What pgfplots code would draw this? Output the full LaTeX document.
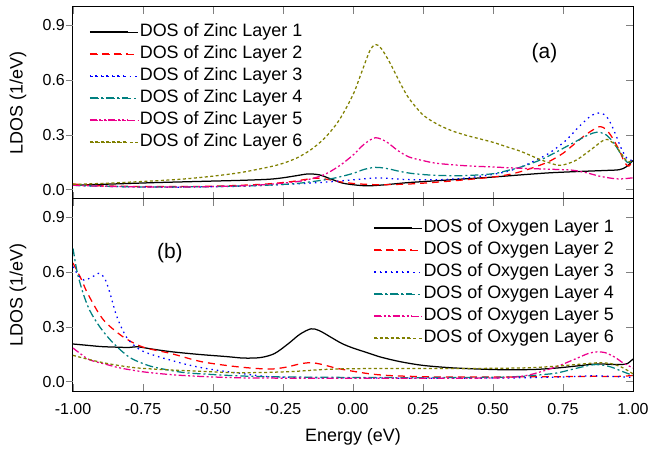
\documentclass[border=0pt]{standalone}
\usepackage{pgfplots}
\pgfplotsset{compat=1.18}
\usepackage{fontspec}
\setmainfont{Liberation Sans}
\definecolor{tealL}{RGB}{0,128,128}
\definecolor{oliveL}{RGB}{128,128,0}
\tikzset{
  l1/.style={draw=black, color=black, line width=1.25bp, solid},
  l2/.style={draw=red, color=red, line width=1.25bp, dash pattern=on 7bp off 5bp},
  l3/.style={draw=blue, color=blue, line width=1.25bp, dash pattern=on 1.5bp off 4bp},
  l4/.style={draw=tealL, color=tealL, line width=1.25bp, dash pattern=on 8bp off 3bp on 2bp off 3bp},
  l5/.style={draw=magenta, color=magenta, line width=1.25bp, dash pattern=on 7bp off 2.5bp on 2bp off 2.5bp on 2bp off 2.5bp},
  l6/.style={draw=oliveL, color=oliveL, line width=1.25bp, dash pattern=on 3bp off 2.5bp},
}
\pgfplotsset{
  dosaxis/.style={
    scale only axis, width=560bp, height=192bp,
    xmin=-1, xmax=1, ymin=-0.05, ymax=1.0,
    xtick={-1,-0.75,-0.5,-0.25,0,0.25,0.5,0.75,1},
    ytick={0,0.3,0.6,0.9},
    tick align=inside, major tick length=7bp,
    ytick pos=right, yticklabel pos=left,
    extra y ticks={0,0.3,0.6,0.9}, extra y tick labels={},
    extra y tick style={ytick pos=left, tick align=outside},
    tick style={line width=0.8bp},
    axis line style={line width=1bp},
    /pgf/number format/assume math mode=true,
    tick label style={font=\fontsize{16}{16}\selectfont},
    yticklabel style={/pgf/number format/fixed, /pgf/number format/fixed zerofill, /pgf/number format/precision=1, anchor=east, inner sep=0pt, xshift=-8bp},
    ylabel={LDOS (1/eV)},
    every axis y label/.style={at={(axis description cs:-0.0982,0.5)}, rotate=90, anchor=center, font=\fontsize{18}{18}\selectfont},
    legend cell align=left,
    legend style={fill=none, draw=none, font=\fontsize{18}{18}\selectfont, inner sep=0pt, row sep=4bp, nodes={text height=12bp, text depth=4bp, inner sep=1bp}},
    legend image code/.code={\path (0bp,0bp) -- (47bp,0bp);},
  },
}
\begin{document}
\begin{tikzpicture}
\useasboundingbox (-73bp,-60bp) rectangle (576bp,391bp);
% ---------------- top panel ----------------
\begin{axis}[dosaxis, at={(0bp,192bp)}, xticklabels={},
  legend style={at={(axis description cs:0.031,0.9167)}, anchor=north west}]
\addplot[l1, smooth] coordinates {(-1,0.025) (-0.9,0.03) (-0.8,0.035) (-0.7,0.04) (-0.6,0.044) (-0.5,0.048) (-0.4,0.052) (-0.3,0.058) (-0.25,0.066) (-0.2,0.078) (-0.16,0.087) (-0.12,0.082) (-0.08,0.06) (-0.04,0.038) (0,0.028) (0.05,0.022) (0.1,0.026) (0.15,0.033) (0.2,0.04) (0.3,0.05) (0.4,0.06) (0.5,0.07) (0.6,0.082) (0.7,0.093) (0.8,0.1) (0.9,0.106) (0.95,0.11) (0.975,0.125) (1.0,0.16)};
\addlegendentry{DOS of Zinc Layer 1}
\addplot[l2, smooth] coordinates {(-1,0.032) (-0.95,0.026) (-0.9,0.022) (-0.8,0.019) (-0.7,0.018) (-0.6,0.018) (-0.5,0.02) (-0.4,0.025) (-0.3,0.033) (-0.22,0.045) (-0.17,0.057) (-0.13,0.064) (-0.09,0.057) (-0.05,0.045) (0,0.035) (0.05,0.03) (0.1,0.028) (0.2,0.032) (0.3,0.042) (0.4,0.055) (0.5,0.07) (0.55,0.082) (0.6,0.1) (0.65,0.125) (0.7,0.155) (0.75,0.2) (0.79,0.25) (0.83,0.3) (0.87,0.34) (0.885,0.345) (0.9,0.335) (0.92,0.3) (0.95,0.22) (0.97,0.15) (0.985,0.13) (1.0,0.16)};
\addlegendentry{DOS of Zinc Layer 2}
\addplot[l3, smooth] coordinates {(-1,0.025) (-0.9,0.02) (-0.8,0.017) (-0.7,0.015) (-0.6,0.015) (-0.5,0.017) (-0.4,0.02) (-0.3,0.026) (-0.2,0.033) (-0.1,0.042) (0,0.055) (0.05,0.062) (0.1,0.065) (0.15,0.06) (0.2,0.056) (0.3,0.055) (0.4,0.064) (0.5,0.085) (0.55,0.1) (0.6,0.125) (0.65,0.16) (0.7,0.2) (0.76,0.27) (0.81,0.35) (0.85,0.405) (0.875,0.42) (0.9,0.41) (0.92,0.365) (0.94,0.295) (0.96,0.22) (0.98,0.17) (1.0,0.16)};
\addlegendentry{DOS of Zinc Layer 3}
\addplot[l4, smooth] coordinates {(-1,0.025) (-0.9,0.02) (-0.8,0.017) (-0.7,0.015) (-0.6,0.016) (-0.5,0.018) (-0.4,0.021) (-0.3,0.026) (-0.2,0.035) (-0.1,0.055) (-0.05,0.07) (0,0.09) (0.04,0.112) (0.08,0.123) (0.12,0.117) (0.17,0.1) (0.22,0.088) (0.3,0.079) (0.4,0.078) (0.5,0.088) (0.55,0.105) (0.6,0.125) (0.67,0.164) (0.73,0.21) (0.79,0.26) (0.84,0.3) (0.87,0.315) (0.9,0.305) (0.93,0.26) (0.955,0.2) (0.98,0.15) (1.0,0.16)};
\addlegendentry{DOS of Zinc Layer 4}
\addplot[l5, smooth] coordinates {(-1,0.025) (-0.9,0.02) (-0.8,0.017) (-0.7,0.015) (-0.6,0.016) (-0.5,0.018) (-0.4,0.022) (-0.3,0.03) (-0.2,0.045) (-0.15,0.06) (-0.1,0.085) (-0.05,0.13) (0,0.19) (0.04,0.25) (0.08,0.285) (0.12,0.262) (0.16,0.215) (0.2,0.18) (0.25,0.16) (0.3,0.145) (0.4,0.132) (0.5,0.125) (0.6,0.118) (0.7,0.113) (0.78,0.108) (0.83,0.095) (0.88,0.075) (0.93,0.062) (0.96,0.06) (1.0,0.066)};
\addlegendentry{DOS of Zinc Layer 5}
\addplot[l6, smooth] coordinates {(-1,0.03) (-0.9,0.035) (-0.8,0.042) (-0.7,0.05) (-0.6,0.06) (-0.5,0.075) (-0.4,0.095) (-0.3,0.125) (-0.25,0.145) (-0.2,0.175) (-0.15,0.22) (-0.1,0.285) (-0.05,0.38) (0,0.52) (0.03,0.64) (0.06,0.76) (0.08,0.795) (0.1,0.775) (0.13,0.70) (0.17,0.58) (0.2,0.5) (0.25,0.41) (0.3,0.36) (0.35,0.325) (0.4,0.3) (0.45,0.28) (0.5,0.26) (0.55,0.235) (0.6,0.21) (0.67,0.165) (0.73,0.135) (0.76,0.14) (0.8,0.165) (0.85,0.22) (0.9,0.275) (0.93,0.255) (0.96,0.195) (0.98,0.155) (1.0,0.16)};
\addlegendentry{DOS of Zinc Layer 6}
\draw[l1] ([shift={(17bp,167bp)}]rel axis cs:0,0) -- ++(38bp,0bp);
\draw[l2] ([shift={(17bp,145bp)}]rel axis cs:0,0) -- ++(38bp,0bp);
\draw[l3] ([shift={(17bp,123bp)}]rel axis cs:0,0) -- ++(38bp,0bp);
\draw[l4] ([shift={(17bp,101bp)}]rel axis cs:0,0) -- ++(38bp,0bp);
\draw[l5] ([shift={(17bp,79bp)}]rel axis cs:0,0) -- ++(38bp,0bp);
\draw[l6] ([shift={(17bp,57bp)}]rel axis cs:0,0) -- ++(38bp,0bp);
\node[font=\fontsize{21}{21}\selectfont] at (axis cs:0.684,0.747) {(a)};
\end{axis}
% ---------------- bottom panel ----------------
\begin{axis}[dosaxis, at={(0bp,0bp)},
  xticklabel style={/pgf/number format/fixed, /pgf/number format/fixed zerofill, /pgf/number format/precision=2, anchor=north, inner sep=0pt, yshift=-12bp},
  xlabel={Energy (eV)},
  every axis x label/.style={at={(axis description cs:0.5,-0.2396)}, anchor=center, font=\fontsize{18}{18}\selectfont},
  legend style={at={(axis description cs:0.968,0.896)}, anchor=north east}]
\addplot[l1, smooth] coordinates {(-1,0.207) (-0.95,0.2) (-0.9,0.193) (-0.85,0.19) (-0.8,0.188) (-0.77,0.192) (-0.72,0.18) (-0.65,0.165) (-0.55,0.15) (-0.45,0.138) (-0.39,0.13) (-0.33,0.133) (-0.28,0.155) (-0.23,0.21) (-0.19,0.26) (-0.15,0.29) (-0.12,0.28) (-0.08,0.245) (-0.04,0.21) (0,0.185) (0.05,0.16) (0.1,0.135) (0.17,0.11) (0.25,0.09) (0.35,0.077) (0.45,0.07) (0.55,0.066) (0.65,0.068) (0.73,0.076) (0.8,0.087) (0.87,0.098) (0.93,0.095) (0.96,0.095) (0.98,0.1) (1.0,0.125)};
\addlegendentry{DOS of Oxygen Layer 1}
\addplot[l2, smooth] coordinates {(-1,0.65) (-0.97,0.56) (-0.95,0.49) (-0.91,0.38) (-0.88,0.32) (-0.82,0.245) (-0.75,0.19) (-0.65,0.155) (-0.54,0.11) (-0.41,0.082) (-0.3,0.07) (-0.24,0.08) (-0.19,0.098) (-0.15,0.105) (-0.11,0.095) (-0.06,0.075) (0,0.058) (0.07,0.042) (0.15,0.033) (0.3,0.027) (0.5,0.027) (0.7,0.028) (0.85,0.03) (0.95,0.03) (1.0,0.035)};
\addlegendentry{DOS of Oxygen Layer 2}
\addplot[l3, smooth] coordinates {(-1,0.63) (-0.98,0.58) (-0.96,0.556) (-0.93,0.575) (-0.905,0.594) (-0.885,0.56) (-0.868,0.485) (-0.843,0.355) (-0.807,0.24) (-0.76,0.175) (-0.7,0.14) (-0.654,0.12) (-0.6,0.097) (-0.536,0.076) (-0.47,0.06) (-0.414,0.049) (-0.35,0.036) (-0.3,0.028) (-0.2,0.024) (0,0.022) (0.2,0.02) (0.4,0.02) (0.6,0.022) (0.75,0.027) (0.85,0.033) (0.92,0.03) (1.0,0.025)};
\addlegendentry{DOS of Oxygen Layer 3}
\addplot[l4, smooth] coordinates {(-1,0.73) (-0.985,0.6) (-0.964,0.485) (-0.94,0.39) (-0.904,0.3) (-0.857,0.213) (-0.8,0.136) (-0.75,0.1) (-0.714,0.082) (-0.65,0.062) (-0.593,0.049) (-0.5,0.04) (-0.414,0.033) (-0.3,0.028) (-0.1,0.025) (0.2,0.023) (0.5,0.025) (0.6,0.03) (0.68,0.04) (0.73,0.049) (0.8,0.075) (0.85,0.092) (0.88,0.094) (0.92,0.082) (0.96,0.058) (1.0,0.035)};
\addlegendentry{DOS of Oxygen Layer 4}
\addplot[l5, smooth] coordinates {(-1,0.185) (-0.97,0.15) (-0.94,0.12) (-0.88,0.095) (-0.832,0.076) (-0.75,0.055) (-0.654,0.04) (-0.55,0.03) (-0.4,0.022) (-0.2,0.02) (0,0.02) (0.2,0.02) (0.4,0.02) (0.55,0.023) (0.62,0.035) (0.67,0.055) (0.73,0.085) (0.786,0.12) (0.84,0.155) (0.871,0.164) (0.9,0.16) (0.935,0.135) (0.964,0.104) (1.0,0.076)};
\addlegendentry{DOS of Oxygen Layer 5}
\addplot[l6, smooth] coordinates {(-1,0.145) (-0.95,0.125) (-0.89,0.104) (-0.83,0.088) (-0.77,0.076) (-0.654,0.065) (-0.5,0.055) (-0.414,0.05) (-0.3,0.052) (-0.2,0.058) (-0.1,0.068) (0,0.072) (0.2,0.073) (0.4,0.073) (0.6,0.076) (0.7,0.083) (0.8,0.095) (0.87,0.104) (0.92,0.1) (0.96,0.08) (1.0,0.044)};
\addlegendentry{DOS of Oxygen Layer 6}
\draw[l1] ([shift={(301bp,163bp)}]rel axis cs:0,0) -- ++(38bp,0bp);
\draw[l2] ([shift={(301bp,141bp)}]rel axis cs:0,0) -- ++(38bp,0bp);
\draw[l3] ([shift={(301bp,119bp)}]rel axis cs:0,0) -- ++(38bp,0bp);
\draw[l4] ([shift={(301bp,97bp)}]rel axis cs:0,0) -- ++(38bp,0bp);
\draw[l5] ([shift={(301bp,75bp)}]rel axis cs:0,0) -- ++(38bp,0bp);
\draw[l6] ([shift={(301bp,53bp)}]rel axis cs:0,0) -- ++(38bp,0bp);
\node[font=\fontsize{21}{21}\selectfont] at (axis cs:-0.654,0.704) {(b)};
\end{axis}
\end{tikzpicture}
\end{document}
